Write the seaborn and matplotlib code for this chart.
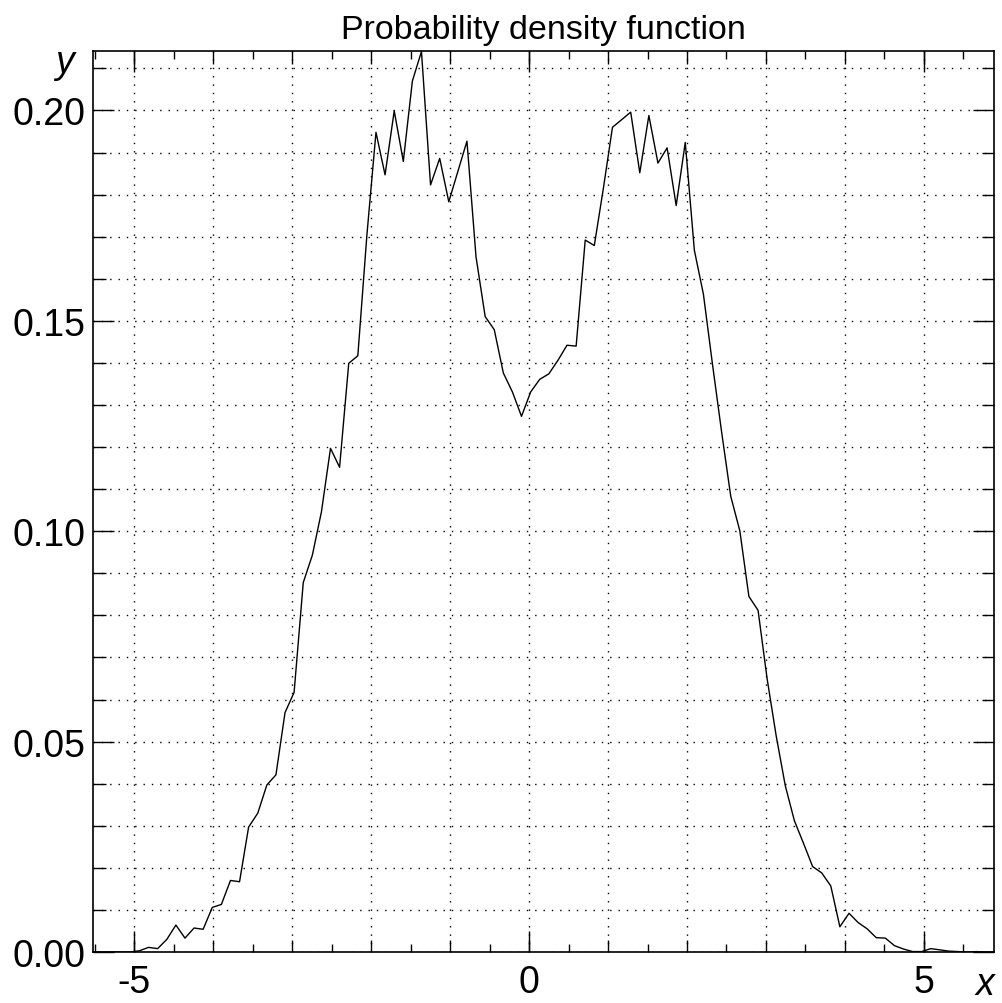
import matplotlib
matplotlib.use('Agg')
import matplotlib.pyplot as plt
import seaborn as sns
import numpy as np

### Data ###
x_vals = [-5.510, -5.395, -5.280, -5.164, -5.049, -4.934, -4.819, -4.704, -4.588, -4.473,
          -4.358, -4.243, -4.128, -4.012, -3.897, -3.782, -3.667, -3.552, -3.436, -3.321,
          -3.206, -3.091, -2.976, -2.860, -2.745, -2.630, -2.515, -2.400, -2.284, -2.169,
          -2.054, -1.939, -1.824, -1.708, -1.593, -1.478, -1.363, -1.248, -1.132, -1.017,
          -0.902, -0.787, -0.672, -0.556, -0.441, -0.326, -0.211, -0.096, 0.020, 0.135,
          0.250, 0.365, 0.480, 0.596, 0.711, 0.826, 0.941, 1.056, 1.172, 1.287,
          1.402, 1.517, 1.632, 1.748, 1.863, 1.978, 2.093, 2.208, 2.324, 2.439,
          2.554, 2.669, 2.784, 2.900, 3.015, 3.130, 3.245, 3.360, 3.476, 3.591,
          3.706, 3.821, 3.936, 4.052, 4.167, 4.282, 4.397, 4.512, 4.628, 4.743,
          4.858, 4.973, 5.088, 5.204, 5.319, 5.434, 5.549, 5.664, 5.780, 5.895]

pdf_vals = [0.0000, 0.0000, 0.0000, 0.0000, 0.0000, 0.0003, 0.0011, 0.0008, 0.0030, 0.0064,
            0.0033, 0.0057, 0.0054, 0.0106, 0.0113, 0.0170, 0.0167, 0.0297, 0.0330, 0.0397,
            0.0421, 0.0569, 0.0617, 0.0878, 0.0943, 0.1046, 0.1197, 0.1152, 0.1399, 0.1417,
            0.1704, 0.1948, 0.1847, 0.1999, 0.1879, 0.2070, 0.2140, 0.1823, 0.1886, 0.1783,
            0.1855, 0.1927, 0.1652, 0.1510, 0.1479, 0.1376, 0.1331, 0.1273, 0.1331, 0.1361,
            0.1374, 0.1406, 0.1442, 0.1440, 0.1692, 0.1679, 0.1815, 0.1960, 0.1978, 0.1996,
            0.1852, 0.1988, 0.1875, 0.1911, 0.1774, 0.1924, 0.1668, 0.1563, 0.1395, 0.1235,
            0.1083, 0.1001, 0.0845, 0.0812, 0.0649, 0.0513, 0.0395, 0.0312, 0.0258, 0.0203,
            0.0188, 0.0157, 0.0060, 0.0092, 0.0070, 0.0055, 0.0034, 0.0033, 0.0015, 0.0007,
            0.0001, 0.0001, 0.0008, 0.0005, 0.0002, 0.0001, 0.0000, 0.0001, 0.0000, 0.0000]

x_major = [-5, -4, -3, -2, -1, 0, 1, 2, 3, 4, 5]
x_labeled = [-5, 0, 5]
y_labeled = [0.00, 0.05, 0.10, 0.15, 0.20]
y_grid = [0.00, 0.01, 0.02, 0.03, 0.04, 0.05, 0.06, 0.07, 0.08, 0.09, 0.10,
          0.11, 0.12, 0.13, 0.14, 0.15, 0.16, 0.17, 0.18, 0.19, 0.20, 0.21]

sns.set_style('white')
plt.rcParams['font.family'] = ['Liberation Sans', 'DejaVu Sans']
plt.rcParams['text.color'] = 'black'
plt.rcParams['xtick.color'] = 'black'
plt.rcParams['ytick.color'] = 'black'

fig = plt.figure(figsize=(10.03, 10.04), dpi=100)
ax = fig.add_axes([0.0924, 0.0508, 0.8987, 0.8977])

sns.lineplot(x=x_vals, y=pdf_vals, color='black', linewidth=1.0, ax=ax)

ax.set_xlim(-5.527, 5.889)
ax.set_ylim(0, 0.2142)

# x: integer ticks (short), half ticks (shorter), labels only on -5, 0, 5
ax.set_xticks(x_major)
ax.set_xticklabels([str(v) if v in x_labeled else '' for v in x_major])
ax.set_xticks([v + 0.5 for v in x_major[:-1]] + [-5.5, 5.5], minor=True)
ax.tick_params(axis='x', which='major', direction='in', length=9, width=1,
               top=True, bottom=True, labelsize=27, pad=9)
ax.tick_params(axis='x', which='minor', direction='in', length=6, width=1,
               top=True, bottom=True)

# y: labeled every 0.05, grid every 0.01
ax.set_yticks(y_labeled)
ax.set_yticklabels([f'{v:.2f}' for v in y_labeled])
ax.set_yticks([v for v in y_grid if v not in y_labeled], minor=True)
ax.tick_params(axis='y', which='major', direction='in', length=15, width=1,
               left=True, right=True, labelsize=27, pad=5)
ax.tick_params(axis='y', which='minor', direction='in', length=9, width=1,
               left=True, right=True)

# longer ticks where the x labels sit
for loc in ['bottom', 'top']:
    sec = ax.secondary_xaxis(loc)
    sec.set_xticks(x_labeled)
    sec.tick_params(direction='in', length=15, width=1, labelbottom=False, labeltop=False)
    sec.spines[loc].set_visible(False)

ax.grid(True, which='major', axis='x', color='black', linestyle=(0, (1, 5)), linewidth=1.0)
ax.grid(True, which='both', axis='y', color='black', linestyle=(0, (1, 5)), linewidth=1.0)

for s in ax.spines.values():
    s.set_color('black')
    s.set_linewidth(1.2)

ax.set_title('Probability density function', fontsize=24.5, pad=9)
ax.text(-0.031, 0.988, 'y', transform=ax.transAxes, fontsize=27, style='italic',
        ha='center', va='center')
ax.text(0.99, -0.036, 'x', transform=ax.transAxes, fontsize=27, style='italic',
        ha='center', va='center')

plt.savefig('out.png', dpi=100)
plt.close()
